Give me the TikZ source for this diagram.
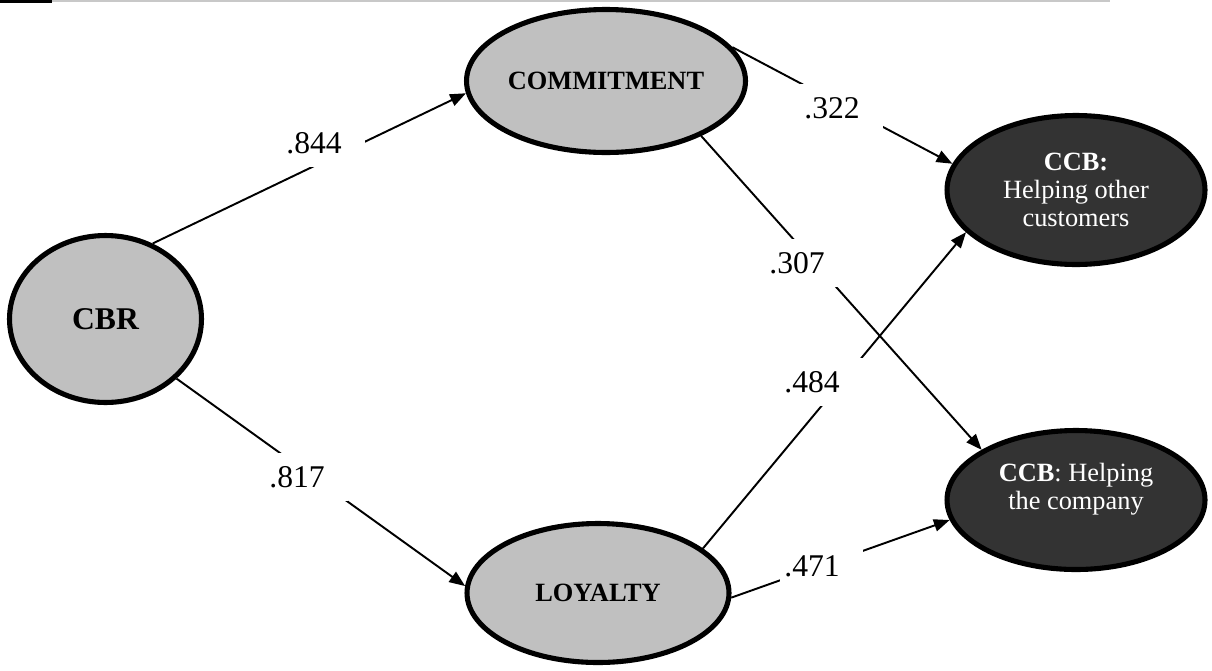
\documentclass[tikz,border=0pt]{standalone}
\usepackage{fontspec}
\setmainfont{Liberation Serif}
\usetikzlibrary{shapes.geometric,arrows.meta}

\definecolor{lightfill}{HTML}{C0C0C0}
\definecolor{darkfill}{HTML}{333333}
\definecolor{rulegray}{HTML}{C8C8C8}

\begin{document}
\begin{tikzpicture}[x=0.02cm,y=-0.02cm]
\tikzstyle{arrow} = [->,>={Triangle[length=9pt,width=7pt]},line width=1.1pt]
\tikzstyle{latent} = [ellipse,draw,line width=2.9pt,fill=lightfill,inner sep=0pt,font=\fontsize{15}{18}\selectfont\bfseries]
\tikzstyle{outcome} = [ellipse,draw,line width=2.9pt,fill=darkfill,text=white,inner sep=0pt,align=center,font=\fontsize{15}{16}\selectfont]
\tikzstyle{coef} = [fill=white,anchor=west,inner xsep=0.08cm,text width=1.5cm,align=left,minimum height=0.95cm,font=\fontsize{18}{19}\selectfont]

\useasboundingbox (0,0) rectangle (1212,670);

% page rule
\fill (0,0) rectangle (52,3);
\draw [rulegray,line width=1pt] (52,1) -- (1110,1);

% nodes
\node[latent,minimum width=3.84cm,minimum height=3.34cm,font=\fontsize{18}{20}\selectfont\bfseries] (CBR) at (105.5,319) {CBR};
\node[latent,minimum width=5.58cm,minimum height=2.86cm] (COMM) at (606,81) {COMMITMENT};
\node[latent,minimum width=5.24cm,minimum height=2.78cm] (LOY) at (598,593) {LOYALTY};
\node[outcome,minimum width=5.16cm,minimum height=2.98cm] (CCB1) at (1076,190) {\textbf{CCB:}\\Helping other\\customers};
\node[outcome,minimum width=5.16cm,minimum height=2.78cm] (CCB2) at (1076,500) {\textbf{CCB}: Helping\\the company\\ \mbox{}};

% arrows
\draw [arrow] (CBR.58) -- (COMM.185);
\draw [arrow] (CBR.-40) -- (LOY.177);
\draw [arrow] (COMM.15) -- (CCB1.168);
\draw [arrow] (COMM.-30) -- (CCB2.152);
\draw [arrow] (LOY.23) -- (CCB1.201);
\draw [arrow] (LOY.-2) -- (CCB2.189);

% coefficients
\node[coef] (c844) at (282,143) {.844};
\node[coef] (c817) at (265,477) {.817};
\node[coef] (c322) at (800,108) {.322};
\node[coef] (c307) at (765,263) {.307};
\node[coef] (c484) at (780,382) {.484};
\node[coef] (c471) at (780,566) {.471};

\end{tikzpicture}
\end{document}
